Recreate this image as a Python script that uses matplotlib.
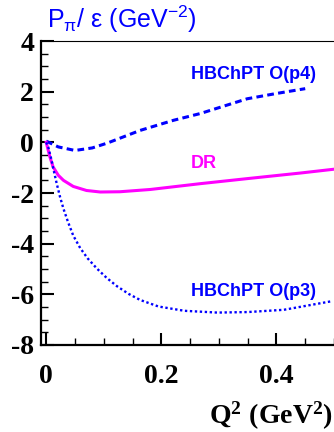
import numpy as np
import matplotlib
matplotlib.use("Agg")
import matplotlib.pyplot as plt
from matplotlib.ticker import MultipleLocator

plt.rcParams['axes.unicode_minus'] = False
plt.rcParams['mathtext.fontset'] = 'custom'
plt.rcParams['mathtext.rm'] = 'Liberation Sans'
plt.rcParams['mathtext.it'] = 'Liberation Sans'
plt.rcParams['mathtext.bf'] = 'Liberation Serif:bold'
plt.rcParams['mathtext.default'] = 'regular'

# curves
p4_x = [0.0, 0.021, 0.05, 0.08, 0.106, 0.163, 0.221, 0.268, 0.349, 0.40, 0.45]
p4_y = [0.05, -0.18, -0.32, -0.22, -0.03, 0.47, 0.87, 1.14, 1.72, 1.93, 2.12]

dr_x = [0.0, 0.0065, 0.012, 0.021, 0.030, 0.047, 0.070, 0.094, 0.128, 0.181, 0.268, 0.35, 0.442, 0.5]
dr_y = [0.0, -0.58, -0.97, -1.30, -1.50, -1.74, -1.90, -1.96, -1.95, -1.86, -1.63, -1.43, -1.21, -1.06]

p3_x = [0.0, 0.0035, 0.0094, 0.012, 0.018, 0.024, 0.030, 0.038, 0.047, 0.059, 0.072,
        0.088, 0.105, 0.123, 0.143, 0.163, 0.195, 0.24, 0.297, 0.35, 0.413, 0.494]
p3_y = [0.0, -0.18, -0.71, -1.0, -1.6, -2.15, -2.62, -3.15, -3.68, -4.17, -4.58,
        -4.98, -5.35, -5.68, -5.98, -6.22, -6.48, -6.65, -6.72, -6.70, -6.61, -6.28]

blue = (0, 0, 1)
magenta = (1, 0, 1)

fig = plt.figure(figsize=(3.34, 4.32), dpi=100)
ax = fig.add_axes([0.1228, 0.2014, 0.8772, 0.7036])

ax.plot(p4_x, p4_y, color=blue, lw=2.2, dashes=(2.2, 1.4), dash_capstyle='butt')
ax.plot(dr_x, dr_y, color=magenta, lw=2.2)
ax.plot(p3_x, p3_y, color=blue, lw=1.7, dashes=(1.0, 1.1))

ax.set_xlim(-0.009, 0.5)
ax.set_ylim(-8, 4)

ax.xaxis.set_minor_locator(MultipleLocator(0.05))
ax.yaxis.set_major_locator(MultipleLocator(2))
ax.yaxis.set_minor_locator(MultipleLocator(0.5))
ax.set_xticks([0, 0.2, 0.4])
ax.set_xticklabels(['0', '0.2', '0.4'])

ax.tick_params(which='both', direction='in', top=False, right=False, color='black')
ax.tick_params(axis='x', which='major', length=9, width=1.5, pad=14)
ax.tick_params(axis='y', which='major', length=9, width=1.5, pad=5)
ax.tick_params(which='minor', length=5, width=1.0)
for lab in ax.get_xticklabels() + ax.get_yticklabels():
    lab.set_fontfamily('Liberation Serif')
    lab.set_fontweight('bold')
    lab.set_fontsize(20)

ax.spines['left'].set_linewidth(1.6)
ax.spines['bottom'].set_linewidth(1.6)
ax.spines['top'].set_linewidth(0.8)
ax.spines['right'].set_visible(False)

lab_kw = dict(fontfamily='Liberation Sans', fontweight='bold', fontsize=13,
              ha='left', va='baseline')
ax.text(0.251, 2.49, 'HBChPT O(p4)', color=blue, **lab_kw)
ax.text(0.251, -1.0, 'DR', color=magenta, **lab_kw)
ax.text(0.251, -6.08, 'HBChPT O(p3)', color=blue, **lab_kw)

fig.text(0.141, 0.935, r'P$_{π}$/ ε (GeV$^{-2}$)', color=blue,
         fontfamily='Liberation Sans', fontsize=18, ha='left', va='baseline')
fig.text(0.997, 0.0185, r'$\mathbf{Q^2\ (GeV^2)}$', fontsize=20,
         ha='right', va='baseline')

fig.savefig('out.png', dpi=100)
